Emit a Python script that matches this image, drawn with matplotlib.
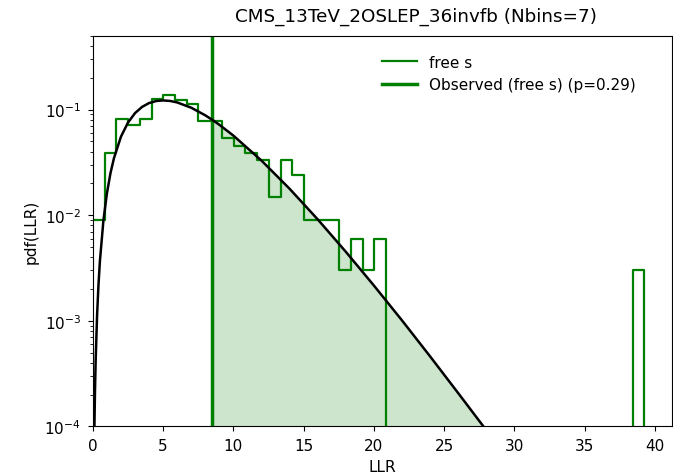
import numpy as np
import matplotlib
matplotlib.use("Agg")
import matplotlib.pyplot as plt

# histogram of LLR (400 toys, 47 bins from 0 to 39.25)
n_toys = 400
bin_lo, bin_hi, n_bins = 0.0, 39.25, 47
counts = [3, 13, 27, 24, 27, 42, 46, 41, 38, 26, 26, 18, 15, 13, 11, 5,
          11, 8, 3, 3, 3, 1, 2, 1, 2] + [0] * 21 + [1]

# asymptotic curve
curve_x = [0.11, 0.15, 0.2, 0.3, 0.4, 0.5, 0.75, 1.0, 1.25, 1.5, 2.0, 2.5, 3.0,
           3.5, 4.0, 4.5, 5.0, 5.5, 6.0, 7.0, 8.0, 8.5, 9.0, 10.0, 12.0, 14.0,
           16.0, 18.0, 20.0, 22.0, 24.0, 26.0, 27.8]
curve_y = [1.0e-4, 2.15e-4, 4.3e-4, 1.13e-3, 2.2e-3, 3.66e-3, 8.9e-3, 0.0161,
           0.0249, 0.0346, 0.0554, 0.0753, 0.0925, 0.1059, 0.1152, 0.1204,
           0.1220, 0.1206, 0.1168, 0.1041, 0.0882, 0.0799, 0.0718, 0.0567,
           0.0329, 0.0178, 0.00914, 0.00451, 0.00216, 0.00101, 4.61e-4,
           2.07e-4, 1.0e-4]

llr_obs = 8.5
p_obs = 0.29

edges = np.linspace(bin_lo, bin_hi, n_bins + 1)
width = edges[1] - edges[0]
dens = np.array(counts) / (n_toys * width)

fig, ax = plt.subplots(figsize=(6.73, 4.77), dpi=100)
fig.subplots_adjust(left=0.138, right=0.998, bottom=0.104, top=0.923)

ax.step(edges, np.r_[dens, 0.0], where="post", color="green", lw=1.6, label="free s")
ax.axvline(llr_obs, color="green", lw=2.5, label=f"Observed (free s) (p={p_obs})")

cx = np.array(curve_x); cy = np.array(curve_y)
ax.plot(cx, cy, color="black", lw=1.8)
m = cx >= llr_obs
ax.fill_between(cx[m], cy[m], 1e-5, color="green", alpha=0.2, lw=0)

ax.set_yscale("log")
ax.set_ylim(1e-4, 0.5)
ax.set_xlim(0, 41.2)
ax.set_xlabel("LLR", fontsize=11)
ax.set_ylabel("pdf(LLR)", fontsize=11)
ax.set_title("CMS_13TeV_2OSLEP_36invfb (Nbins=7)", fontsize=13.2, pad=11, x=0.559)
ax.tick_params(labelsize=11, pad=5)
ax.legend(loc="upper right", bbox_to_anchor=(0.962, 0.987), frameon=False,
          fontsize=11, handlelength=2.3)

plt.savefig("out.png", dpi=100)
